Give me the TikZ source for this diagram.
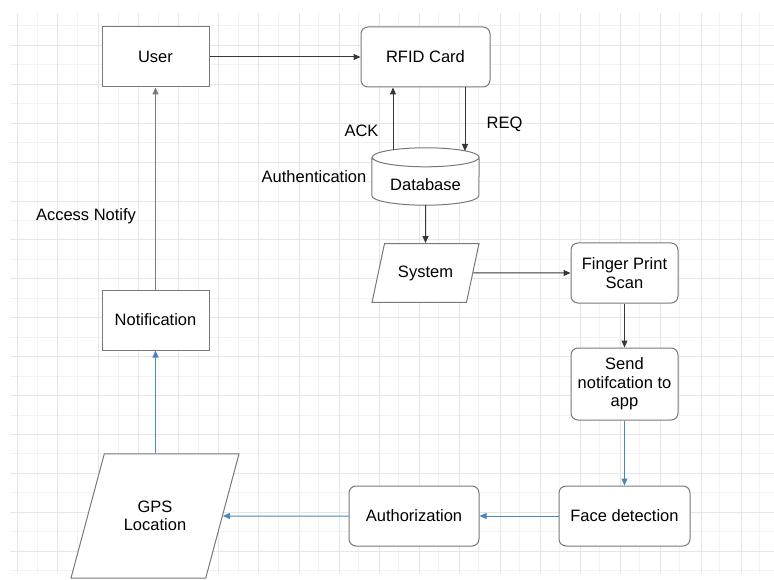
\documentclass[tikz,border=0pt]{standalone}
\usepackage{fontspec}
\setmainfont{Liberation Sans}
\usepackage{xcolor}
\usepackage{tikz}
\usetikzlibrary{shapes.geometric, arrows.meta}

\definecolor{gradeclara}{RGB}{242,242,242}
\definecolor{gradeescura}{RGB}{230,230,230}
\definecolor{borda}{RGB}{120,120,120}
\definecolor{seta}{RGB}{55,55,55}
\definecolor{azul}{RGB}{74,134,190}

\begin{document}
\begin{tikzpicture}[
		    x=1pt, y=-1pt,
		    every node/.style={font=\fontsize{16.5}{18.5}\selectfont, align=center, inner sep=2pt}
		]
		\tikzset{
		    caixa/.style={draw=borda, fill=white, line width=1pt, minimum width=107pt, minimum height=60pt},
		    arred/.style={caixa, rounded corners=7pt},
		    entrada/.style={caixa, trapezium, minimum height=0pt, inner ysep=22pt, trapezium stretches body=true, trapezium left angle=78, trapezium right angle=102},
		    seta/.style={draw=seta, line width=1pt, -{Triangle[length=7pt,width=6pt]}},
		    setacinza/.style={seta, draw=borda},
		    setaazul/.style={seta, draw=azul}
		}
		\clip (0,0) rectangle (774,580);
		\fill[white] (0,0) rectangle (774,580);
		\foreach \x in {37.8,77.9,...,774} \draw[gradeclara, line width=1pt] (\x,13) -- (\x,573);
		\foreach \y in {26,64.9,...,573} \draw[gradeclara, line width=1pt] (10,\y) -- (774,\y);
		\foreach \x in {17.7,57.9,...,774} \draw[gradeescura, line width=1pt] (\x,13) -- (\x,573);
		\foreach \y in {45.45,84.35,...,573} \draw[gradeescura, line width=1pt] (10,\y) -- (774,\y);

		\node[caixa] (user) at (155.5,57) {User};
		\node[arred, minimum width=129pt] (rfid) at (425.5,57) {RFID Card};
		\path node[minimum width=107pt, minimum height=57pt] (db) at (425.5,176.5) {};
		\draw[draw=borda, fill=white, line width=1pt]
		    ([yshift=-9.5pt]db.north west) -- ([yshift=9.5pt]db.south west)
		    arc[start angle=180, end angle=360, x radius=53.5pt, y radius=9.5pt]
		    -- ([yshift=-9.5pt]db.north east)
		    arc[start angle=0, end angle=180, x radius=53.5pt, y radius=9.5pt]
		    arc[start angle=180, end angle=360, x radius=53.5pt, y radius=9.5pt];
		\node (dbtexto) at (425.5,185) {Database};
		\node[entrada] (sistema) at (425.5,273) {System};
		\node[arred] (digital) at (624.5,273) {Finger Print\\Scan};
		\node[arred, minimum height=72pt] (envio) at (624.5,384) {Send\\notifcation to\\app};
		\node[arred, minimum width=131pt] (face) at (624.5,516) {Face detection};
		\node[arred, minimum width=130pt] (autoriz) at (414,516) {Authorization};
		\node[entrada, minimum width=168pt, inner ysep=47pt, trapezium left angle=75, trapezium right angle=105] (gps) at (155,516) {GPS\\Location};
		\node[caixa] (notif) at (155.5,320) {Notification};

		\node (ack) at (361.5,131) {ACK};
		\node (req) at (504.5,124) {REQ};
		\node (autent) at (314,177) {Authentication};
		\node (acesso) at (86,216) {Access Notify};

		\coordinate (dbreq) at (465,151);
		\coordinate (dback) at (393,150);
		\draw[seta] (user) -- (rfid);
		\draw[seta] (rfid.south -| dbreq) -- (dbreq);
		\draw[seta] (dback) -- (dback |- rfid.south);
		\draw[seta] (db.south) -- (sistema.north);
		\draw[seta] (sistema.east) -- (digital.west);
		\draw[seta] (digital) -- (envio);
		\draw[setaazul] (envio) -- (face);
		\draw[setaazul] (face) -- (autoriz);
		\draw[setaazul] (autoriz.west) -- (gps.east);
		\draw[setaazul] (notif.south |- gps.north) -- (notif.south);
		\draw[setacinza] (notif) -- (user);
		\end{tikzpicture}
\end{document}
